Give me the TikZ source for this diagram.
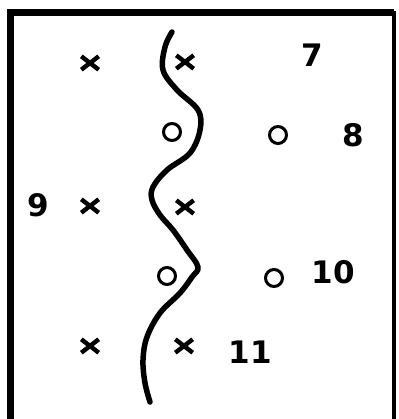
\documentclass[tikz,border=0pt]{standalone}
\usepackage{fontspec}
\newfontfamily\numfont{DejaVu Sans}
\usetikzlibrary{shapes.misc}
\tikzset{
    crossmark/.style={
        cross out,
        draw,
        line width=4.4pt,
        minimum width=13pt,
        minimum height=9pt,
        inner sep=0pt
    },
    ringmark/.style={
        circle,
        draw,
        line width=3pt,
        minimum size=17pt,
        inner sep=0pt
    },
    lbl/.style={
        inner sep=0pt,
        font=\numfont\bfseries\fontsize{31}{31}\selectfont
    }
}
\begin{document}
\begin{tikzpicture}[x=1pt, y=-1pt]
    \useasboundingbox (0,0) rectangle (398,419);
    % frame
    \draw[line width=7pt] (10,425) -- (10,13) -- (394,13);
    \draw[line width=3.5pt] (394,11) -- (394,425);

    % left column
    \node (xa) [crossmark] at (90,63) {};
    \node (xb) [crossmark] at (90,206) {};
    \node (xc) [crossmark] at (90,346) {};
    % right of the curve
    \node (xd) [crossmark] at (185,62) {};
    \node (xe) [crossmark] at (185,207) {};
    \node (xf) [crossmark] at (184,346) {};
    \node (oa) [ringmark] at (172,132) {};
    \node (ob) [ringmark] at (167,276) {};
    \node (oc) [ringmark] at (278,135) {};
    \node (od) [ringmark] at (274,278) {};

    % numbers
    \node (n7) [lbl] at (312,55) {7};
    \node (n8) [lbl] at (353,135) {8};
    \node (n9) [lbl] at (38,205) {9};
    \node (n10) [lbl] at (333,272) {10};
    \node (n11) [lbl] at (250,352) {11};

    % boundary curve
    \draw[line width=5.5pt, line cap=round, line join=round]
        plot[smooth, tension=0.6] coordinates {
            (172,32) (165,47) (163,70) (177,90) (198,110) (200,130)
            (190,153) (167,170) (153,187) (152,200) (160,215) (173,230)
            (187,250) (198,267) (192,277) (180,293) (160,313) (147,337)
            (143,360) (145,383) (150,402)};
\end{tikzpicture}
\end{document}
